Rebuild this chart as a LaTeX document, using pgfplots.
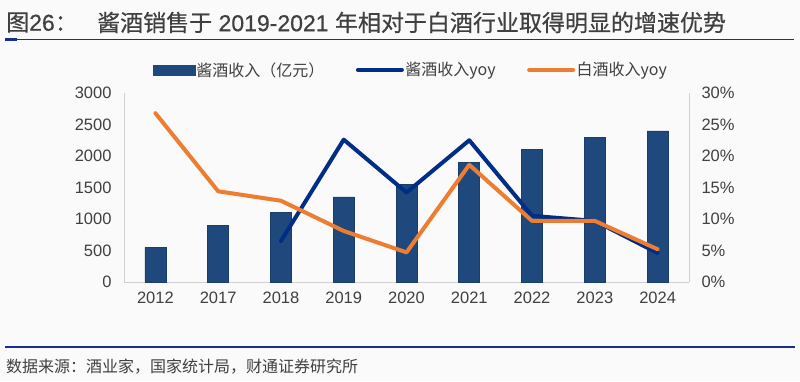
\documentclass[border=0pt]{standalone}
\usepackage{pgfplots}
\pgfplotsset{compat=1.18}
\usepackage{fontspec}
\setmainfont{Liberation Sans}
\newfontfamily\cjk{Noto Sans CJK SC}
\newfontfamily\cjkt[FakeBold=0.5]{Noto Sans CJK SC}
\newfontfamily\latt[FakeBold=0.5]{Liberation Sans}
\definecolor{barc}{HTML}{1F487D}
\definecolor{bluel}{HTML}{002E86}
\definecolor{orangel}{HTML}{ED7D31}
\definecolor{txt}{HTML}{404040}
\definecolor{axc}{HTML}{D0D0D0}
\definecolor{bg}{HTML}{FAFAFA}
\definecolor{navy}{HTML}{1A2F8A}
\begin{document}
\begin{tikzpicture}[x=1pt,y=1pt]
\fill[bg] (0,0) rectangle (800,381);
\useasboundingbox (0,0) rectangle (800,381);
% title
\node[anchor=west,inner sep=0,text=txt] at (6,358.5) {\fontsize{23}{23}\selectfont{\cjkt 图}{\latt 26}{\cjkt ：}};
\node[anchor=west,inner sep=0,text=txt] at (97,358.5) {\fontsize{23}{23}\selectfont{\cjkt 酱酒销售于} {\latt 2019-2021} {\cjkt 年相对于白酒行业取得明显的增速优势}};
\draw[navy,line width=1.2pt] (5,341.5) -- (794,341.5);
\draw[navy,line width=2.5pt] (5,341.5) -- (17,341.5);
% bottom
\draw[navy,line width=2pt] (5,33.7) -- (795,33.7);
\node[anchor=west,inner sep=0,text=txt] at (6,14.3) {\fontsize{16}{16}\selectfont\cjk 数据来源：酒业家，国家统计局，财通证券研究所};

\begin{axis}[
  at={(124pt,99pt)}, anchor=south west,
  width=565pt, height=189pt, scale only axis,
  xmin=-0.5, xmax=8.5, ymin=0, ymax=3000,
  xtick={0,...,8},
  xticklabels={2012,2017,2018,2019,2020,2021,2022,2023,2024},
  ytick={0,500,...,3000},
  axis x line*=bottom, axis y line*=left,
  axis line style={axc, line width=0.8pt, -},
  major tick length=0pt,
  tick label style={text=txt, font=\fontsize{16.5}{16.5}\selectfont},
  /pgf/number format/assume math mode=true,
  /pgf/number format/1000 sep={},
  yticklabel style={xshift=-9pt},
  xticklabel style={yshift=-6pt},
]
\addplot[ybar, bar width=21pt, bar shift=0pt, fill=barc, draw=barc!85!black, line width=0.6pt]
 coordinates {(0,550) (1,900) (2,1100) (3,1350) (4,1550) (5,1900) (6,2100) (7,2300) (8,2400)};
\end{axis}

\begin{axis}[
  at={(124pt,99pt)}, anchor=south west,
  width=565pt, height=189pt, scale only axis,
  xmin=-0.5, xmax=8.5, ymin=0, ymax=30,
  ytick={0,5,...,30},
  yticklabel={\pgfmathprintnumber{\tick}\%},
  axis y line*=right, axis x line=none,
  axis line style={axc, line width=0.8pt, -},
  major tick length=0pt,
  tick label style={text=txt, font=\fontsize{16.5}{16.5}\selectfont},
  /pgf/number format/assume math mode=true,
  yticklabel style={xshift=9pt},
  legend columns=3,
  legend style={at={(0.507,1.122)}, anchor=center, draw=none, fill=none,
    font=\fontsize{16}{16}\selectfont\cjk, text=txt,
    /tikz/every even column/.append style={column sep=30pt},
    nodes={inner sep=1.5pt}},
  legend cell align=left,
]
\addlegendimage{legend image code/.code={\fill[barc] (0pt,-5pt) rectangle (42pt,5pt);}}
\addlegendentry{酱酒收入（亿元）}
\addplot[bluel, line width=4pt, line join=round, line cap=round,
  legend image code/.code={\draw[bluel,line width=4pt,line cap=round] (0pt,0pt) -- (44pt,0pt);}]
 coordinates {(2,6.5) (3,22.6) (4,14.2) (5,22.5) (6,10.5) (7,9.7) (8,4.6)};
\addlegendentry{酱酒收入yoy}
\addplot[orangel, line width=4pt, line join=round, line cap=round,
  legend image code/.code={\draw[orangel,line width=4pt,line cap=round] (0pt,0pt) -- (44pt,0pt);}]
 coordinates {(0,26.8) (1,14.4) (2,12.9) (3,8.1) (4,4.7) (5,18.6) (6,9.7) (7,9.7) (8,5.2)};
\addlegendentry{白酒收入yoy}
\end{axis}
\end{tikzpicture}
\end{document}
